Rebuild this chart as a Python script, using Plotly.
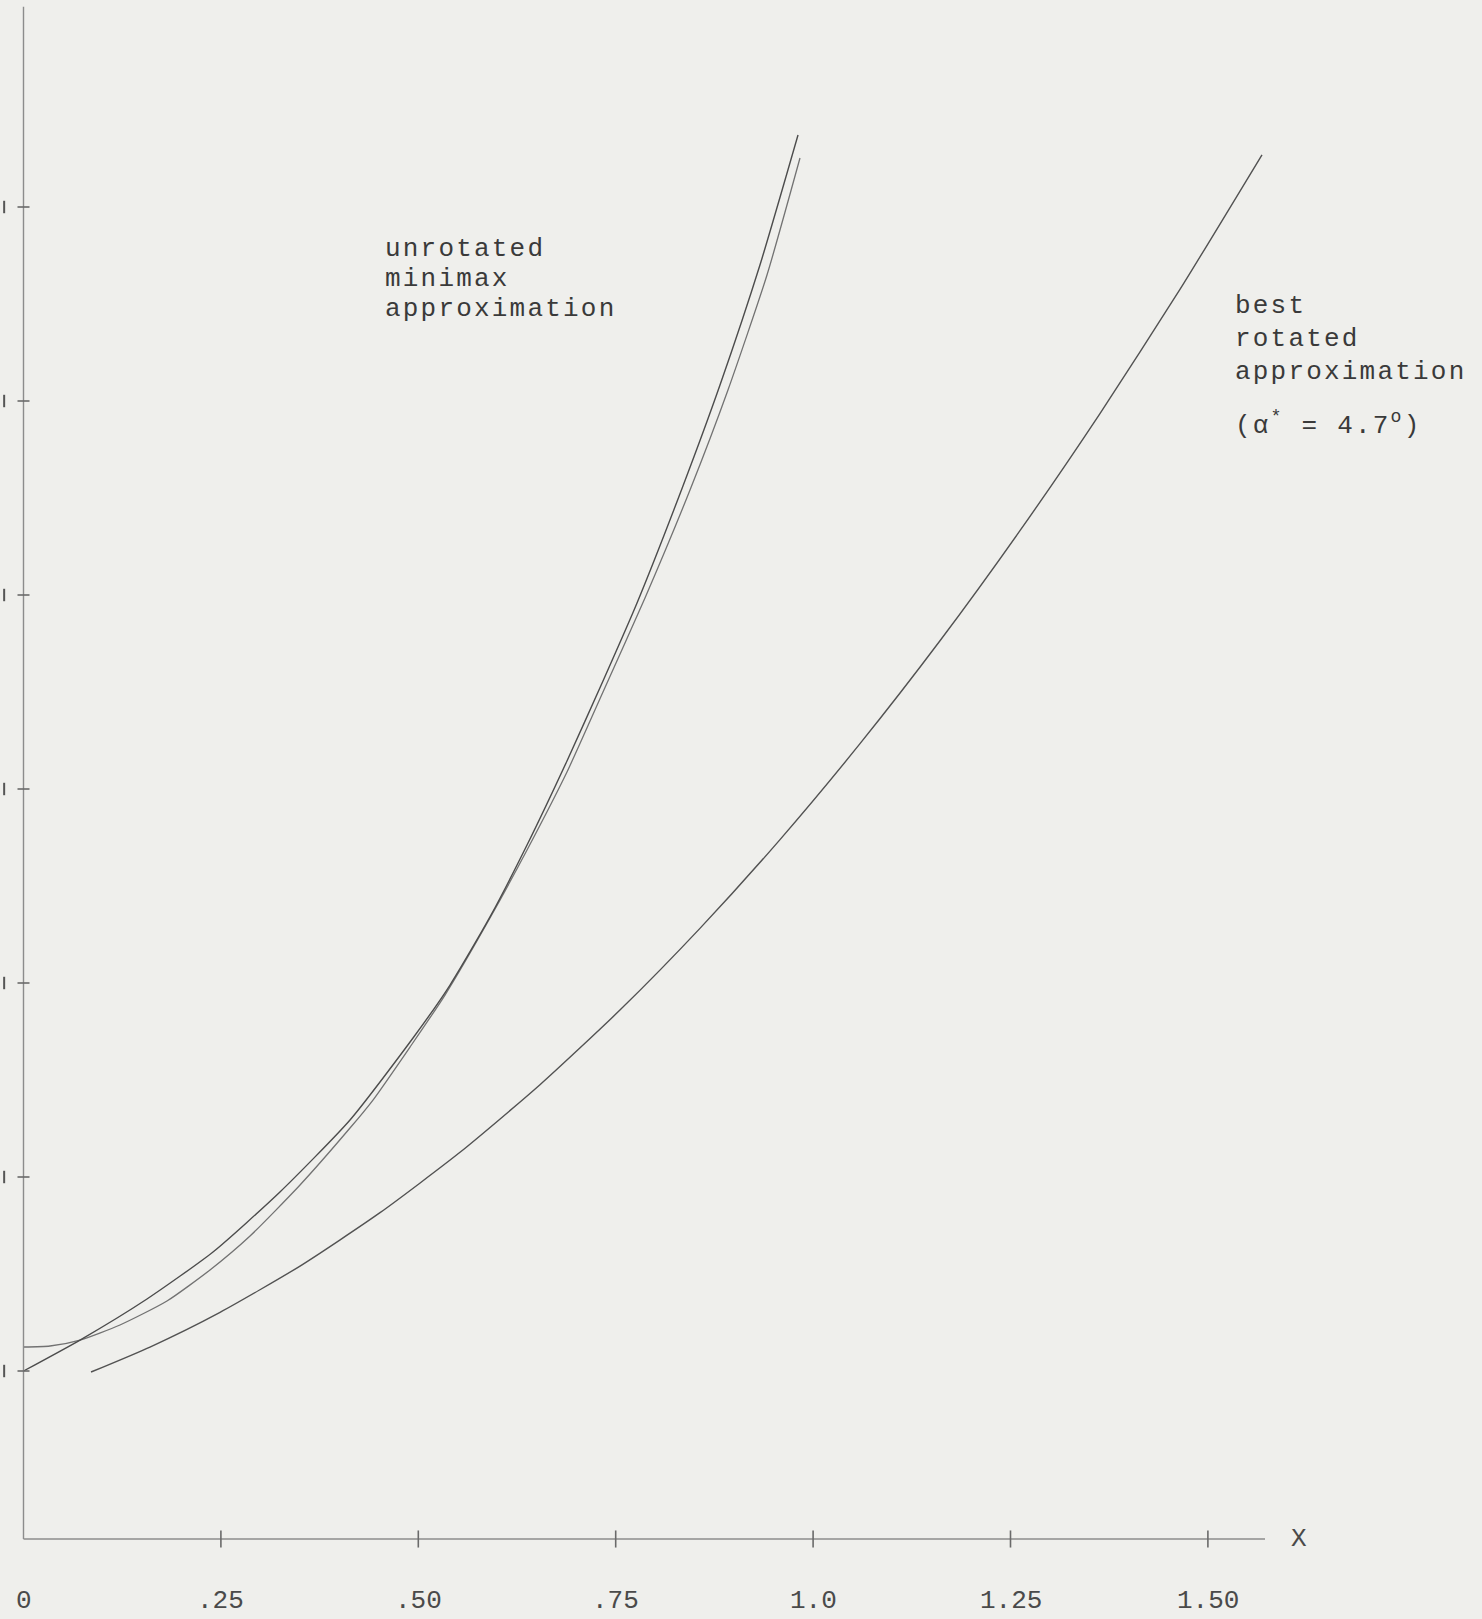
import plotly.graph_objects as go

# --- curve data (x, y) ---------------------------------------------------
# unrotated minimax approximation (steeper start)
minimax_x = [0.0000, 0.0716, 0.1564, 0.2400, 0.3248, 0.4135, 0.4933, 0.5402,
             0.5908, 0.6377, 0.6883, 0.7339, 0.7770, 0.8352, 0.8821, 0.9327,
             0.9809]
minimax_y = [1.0000, 1.0399, 1.0928, 1.1534, 1.2307, 1.3235, 1.4291, 1.4974,
             1.5851, 1.6778, 1.7861, 1.8892, 1.9897, 2.1405, 2.2706, 2.4253,
             2.5928]

# function being approximated (flat start)
exact_x = [0.0000, 0.0336, 0.0716, 0.1222, 0.1817, 0.2362, 0.2869, 0.3502,
           0.4135, 0.4426, 0.4895, 0.5338, 0.5908, 0.6377, 0.6883, 0.7339,
           0.7871, 0.8441, 0.8922, 0.9416, 0.9834]
exact_y = [1.0309, 1.0322, 1.0399, 1.0593, 1.0902, 1.1302, 1.1740, 1.2397,
           1.3131, 1.3492, 1.4175, 1.4845, 1.5838, 1.6714, 1.7719, 1.8750,
           1.9961, 2.1353, 2.2642, 2.4124, 2.5631]

# best rotated approximation
rotated_x = [0.0855, 0.1602, 0.2489, 0.3502, 0.4515, 0.5528, 0.6541, 0.7554,
             0.8567, 0.9581, 1.0594, 1.1607, 1.2620, 1.3633, 1.4646, 1.5685]
rotated_y = [0.9987, 1.0309, 1.0756, 1.1352, 1.2040, 1.2818, 1.3689, 1.4651,
             1.5704, 1.6848, 1.8084, 1.9410, 2.0829, 2.2338, 2.3938, 2.5673]

# --- axes ----------------------------------------------------------------
x_tick_vals = [0.0, 0.25, 0.5, 0.75, 1.0, 1.25, 1.5]
x_tick_text = ["0", ".25", ".50", ".75", "1.0", "1.25", "1.50"]
y_tick_vals = [1.0, 1.25, 1.5, 1.75, 2.0, 2.25, 2.5]

X_RANGE = [-0.02976, 1.84714]
Y_RANGE = [0.68041, 2.76675]
AXIS_Y0 = 0.7835      # height of the horizontal axis
AXIS_X_END = 1.5723
AXIS_Y_TOP = 2.758

PAPER = "#efefec"
INK = "#3a3a3a"
AXIS_COL = "#8c8c8c"
MONO = "Liberation Mono, Courier New, monospace"

fig = go.Figure()

curve_style = dict(shape="spline", smoothing=0.6)
fig.add_trace(go.Scatter(x=exact_x, y=exact_y, mode="lines",
                         line=dict(color="#727272", width=1.3, **curve_style),
                         hoverinfo="skip", showlegend=False))
fig.add_trace(go.Scatter(x=minimax_x, y=minimax_y, mode="lines",
                         line=dict(color="#4c4c4c", width=1.4, **curve_style),
                         hoverinfo="skip", showlegend=False))
fig.add_trace(go.Scatter(x=rotated_x, y=rotated_y, mode="lines",
                         line=dict(color="#525252", width=1.4, **curve_style),
                         hoverinfo="skip", showlegend=False))

shapes = []
# axis lines
shapes.append(dict(type="line", xref="x", yref="y", x0=0, x1=AXIS_X_END,
                   y0=AXIS_Y0, y1=AXIS_Y0, line=dict(color=AXIS_COL, width=1.4)))
shapes.append(dict(type="line", xref="x", yref="y", x0=0, x1=0,
                   y0=AXIS_Y0, y1=AXIS_Y_TOP, line=dict(color=AXIS_COL, width=1.4)))
# x ticks
for v in x_tick_vals[1:]:
    shapes.append(dict(type="line", xref="x", yref="y", x0=v, x1=v,
                       y0=AXIS_Y0 - 0.011, y1=AXIS_Y0 + 0.011,
                       line=dict(color="#6a6a6a", width=1.6)))
# y ticks
for v in y_tick_vals:
    shapes.append(dict(type="line", xref="x", yref="y", x0=-0.0076, x1=0.0076,
                       y0=v, y1=v, line=dict(color="#6a6a6a", width=1.6)))
    # clipped label edges at the far left
    shapes.append(dict(type="line", xref="x", yref="y", x0=-0.0245, x1=-0.0245,
                       y0=v - 0.008, y1=v + 0.008, line=dict(color="#555555", width=2)))

annotations = []
tick_font = dict(family=MONO, size=26, color="#4a4a4a")
for v, t in zip(x_tick_vals, x_tick_text):
    annotations.append(dict(x=v, y=0.7036, xref="x", yref="y", text=t,
                            showarrow=False, xanchor="center", yanchor="middle",
                            font=tick_font))
annotations.append(dict(x=1.6155, y=AXIS_Y0, xref="x", yref="y", text="X",
                        showarrow=False, xanchor="center", yanchor="middle",
                        font=tick_font))


def spaced(s):
    # typewriter-style wide letter pitch
    return '<span style="letter-spacing:2.2px">' + s + '</span>'


label_font = dict(family=MONO, size=26, color=INK)
label_rows = [
    ("unrotated", 0.4578, 2.4459),
    ("minimax", 0.4578, 2.4072),
    ("approximation", 0.4578, 2.3686),
    ("best", 1.5344, 2.3728),
    ("rotated", 1.5344, 2.3302),
    ("approximation", 1.5344, 2.2876),
    ("(α<sup>*</sup> = 4.7<sup>o</sup>)", 1.5344, 2.2200),
]
for txt, xx, yy in label_rows:
    annotations.append(dict(x=xx, y=yy, xref="x", yref="y", text=spaced(txt),
                            showarrow=False, xanchor="left", yanchor="middle",
                            borderpad=0, borderwidth=0, font=label_font))

fig.update_layout(
    width=1482, height=1619, autosize=False,
    margin=dict(l=0, r=0, t=0, b=0, pad=0),
    paper_bgcolor=PAPER, plot_bgcolor=PAPER,
    xaxis=dict(range=X_RANGE, visible=False, fixedrange=True),
    yaxis=dict(range=Y_RANGE, visible=False, fixedrange=True),
    shapes=shapes, annotations=annotations,
)

fig.write_html("out.html")
